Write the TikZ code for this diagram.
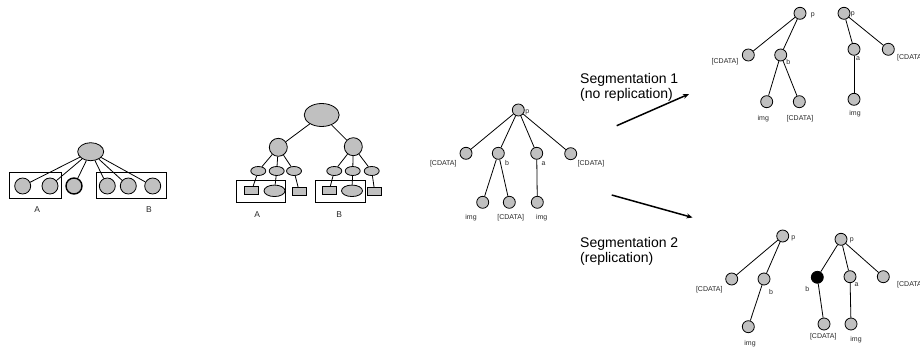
\documentclass[tikz,border=0pt]{standalone}
\usepackage{fontspec}
\setmainfont{Liberation Sans}
\usetikzlibrary{shapes.geometric,arrows.meta}
\definecolor{nodegray}{RGB}{192,192,192}
\definecolor{inkgray}{RGB}{40,40,40}
\begin{document}
\begin{tikzpicture}[x=1pt,y=-1pt,
  nd/.style={circle,draw=black,fill=nodegray,line width=0.8pt,minimum size=12pt,inner sep=0pt},
  blk/.style={nd,fill=black},
  bignd/.style={ellipse,draw=black,fill=nodegray,line width=0.8pt,inner sep=0pt},
  smallnd/.style={ellipse,draw=black,fill=nodegray,line width=0.8pt,inner sep=0pt,minimum width=15pt,minimum height=9pt},
  leafbox/.style={rectangle,draw=black,fill=nodegray,line width=0.8pt,inner sep=0pt,minimum width=14pt,minimum height=8pt},
  grp/.style={draw=black,line width=0.7pt},
  edge/.style={line width=0.8pt},
  lbl/.style={font=\fontsize{7}{8}\selectfont,text=inkgray,inner sep=0pt},
  grplbl/.style={font=\fontsize{8.5}{10}\selectfont,text=inkgray,inner sep=0pt},
  seglbl/.style={font=\fontsize{14}{15}\selectfont,align=left,inner sep=0pt,anchor=north west},
  segarrow/.style={line width=1.5pt,-{Stealth[length=6pt,width=5pt]}}]
\useasboundingbox (0,0) rectangle (920,350);

% ---- flat grouping: one root, six children, two groups ----
\node[bignd,minimum width=26pt,minimum height=18pt] (r1) at (90.7,151.7) {};
\node[nd,minimum size=16pt] (c1) at (22.7,186) {};
\node[nd,minimum size=16pt] (c2) at (50,186) {};
\node[nd,minimum size=16pt,line width=1.4pt] (c3) at (74,186) {};
\node[nd,minimum size=16pt] (c4) at (107.3,186) {};
\node[nd,minimum size=16pt] (c5) at (128.3,186) {};
\node[nd,minimum size=16pt] (c6) at (152.7,186) {};
\foreach \c in {c1,c2,c3,c4,c5,c6} \draw[edge] (r1) -- (\c);
\draw[grp] (9.3,172.3) rectangle (61.7,198.3);
\draw[grp] (96,172.3) rectangle (166.7,198.3);
\node[grplbl] (ga1) at (37.3,209.3) {A};
\node[grplbl] (gb1) at (149,209.3) {B};

% ---- nested grouping: two subtrees ----
\node[bignd,minimum width=35pt,minimum height=23pt] (r2) at (321.7,115) {};
\node[nd,minimum size=18pt] (l) at (278.3,147.3) {};
\node[nd,minimum size=18pt] (r) at (353.3,146.7) {};
\node[smallnd] (l1) at (258.3,171) {};
\node[smallnd] (l2) at (276.7,171) {};
\node[smallnd] (l3) at (294,171) {};
\node[smallnd] (r1s) at (334.3,171) {};
\node[smallnd] (r2s) at (352.7,171) {};
\node[smallnd] (r3s) at (371.7,171) {};
\node[leafbox] (l1b) at (251.7,190.5) {};
\node[smallnd,minimum width=21pt,minimum height=11.5pt] (l2e) at (274.5,190.8) {};
\node[leafbox] (l3b) at (299.2,191.5) {};
\node[leafbox] (r1b) at (329.2,190.5) {};
\node[smallnd,minimum width=21pt,minimum height=11.5pt] (r2e) at (352,190.8) {};
\node[leafbox] (r3b) at (374.7,191.5) {};
\draw[edge] (r2) -- (l);
\draw[edge] (r2) -- (r);
\foreach \c in {l1,l2,l3} \draw[edge] (l) -- (\c);
\foreach \c in {r1s,r2s,r3s} \draw[edge] (r) -- (\c);
\draw[edge] (l1) -- (l1b);
\draw[edge] (l2) -- (l2e);
\draw[edge] (l3) -- (l3b);
\draw[edge] (r1s) -- (r1b);
\draw[edge] (r2s) -- (r2e);
\draw[edge] (r3s) -- (r3b);
\draw[grp] (236,180.7) rectangle (285.7,202.7);
\draw[grp] (315.7,180.7) rectangle (365.7,202.7);
\node[grplbl] (ga2) at (257.3,215) {A};
\node[grplbl] (gb2) at (339.3,215) {B};

% ---- document tree ----
\node[nd] (p) at (518.3,110) {};
\node[nd] (cd1) at (466,153.3) {};
\node[nd] (b) at (498.3,153.3) {};
\node[nd] (a) at (536.7,153.3) {};
\node[nd] (cd2) at (570.7,153.7) {};
\node[nd] (img1) at (482.7,202.3) {};
\node[nd] (cd3) at (509.3,202.3) {};
\node[nd] (img2) at (537.3,202.3) {};
\foreach \c in {cd1,b,a,cd2} \draw[edge] (p) -- (\c);
\draw[edge] (b) -- (img1);
\draw[edge] (b) -- (cd3);
\draw[edge] (a) -- (img2);
\node[lbl] (tp) at (527.3,112.5) {p};
\node[lbl] (tcd1) at (443.3,164) {[CDATA]};
\node[lbl] (tb) at (507,162.5) {b};
\node[lbl] (ta) at (543.5,164) {a};
\node[lbl] (tcd2) at (591,163.3) {[CDATA]};
\node[lbl] (timg1) at (471,217.7) {img};
\node[lbl] (tcd3) at (510.7,217.7) {[CDATA]};
\node[lbl] (timg2) at (541.7,217.7) {img};

% ---- segmentation 1 ----
\node[seglbl] (seg1) at (580,73.5) {Segmentation 1\\(no replication)};
\coordinate (s1a) at (616.7,125.7);
\coordinate (s1b) at (689,94);
\draw[segarrow] (s1a) -- (s1b);

\node[nd] (ap) at (800,13.3) {};
\node[nd] (acd) at (748.3,55) {};
\node[nd] (ab) at (780.7,55) {};
\node[nd] (aimg) at (766.7,101.7) {};
\node[nd] (acd2) at (799.3,101.7) {};
\draw[edge] (ap) -- (acd);
\draw[edge] (ap) -- (ab);
\draw[edge] (ab) -- (aimg);
\draw[edge] (ab) -- (acd2);
\node[lbl] (tap) at (812.7,15) {p};
\node[lbl] (tacd) at (725,61.7) {[CDATA]};
\node[lbl] (tab) at (788.3,61.5) {b};
\node[lbl] (taimg) at (763.3,118.3) {img};
\node[lbl] (tacd2) at (800,119) {[CDATA]};

\node[nd] (bp) at (844,13.3) {};
\node[nd] (ba) at (854,49.3) {};
\node[nd] (bcd) at (888.3,49.3) {};
\node[nd] (bimg) at (854,99.3) {};
\draw[edge] (bp) -- (ba);
\draw[edge] (bp) -- (bcd);
\draw[edge] (ba) -- (bimg);
\node[lbl] (tbp) at (852.7,14.5) {p};
\node[lbl] (tba) at (858,58.3) {a};
\node[lbl,anchor=west] (tbcd) at (897,57.3) {[CDATA]};
\node[lbl] (tbimg) at (855,113.3) {img};

% ---- segmentation 2 ----
\node[seglbl] (seg2) at (580,237.5) {Segmentation 2\\(replication)};
\coordinate (s2a) at (611.7,195);
\coordinate (s2b) at (692.5,217.5);
\draw[segarrow] (s2a) -- (s2b);

\node[nd] (cp) at (782.7,236) {};
\node[nd] (ccd) at (731.7,279) {};
\node[nd] (cb) at (764,279) {};
\node[nd] (cimg) at (748.3,326.7) {};
\draw[edge] (cp) -- (ccd);
\draw[edge] (cp) -- (cb);
\draw[edge] (cb) -- (cimg);
\node[lbl] (tcp) at (793.3,238) {p};
\node[lbl] (tccd) at (709.3,289.3) {[CDATA]};
\node[lbl] (tcb) at (771,292) {b};
\node[lbl] (tcimg) at (750,343.3) {img};

\node[nd] (dp) at (841,239.3) {};
\node[blk] (db) at (817.3,277.3) {};
\node[nd] (da) at (850,276.7) {};
\node[nd] (dcd) at (883.3,276.7) {};
\node[nd] (dcd2) at (824,324) {};
\node[nd] (dimg) at (851,324) {};
\draw[edge] (dp) -- (db);
\draw[edge] (dp) -- (da);
\draw[edge] (dp) -- (dcd);
\draw[edge] (db) -- (dcd2);
\draw[edge] (da) -- (dimg);
\node[lbl] (tdp) at (851.7,240.5) {p};
\node[lbl] (tdb) at (807.3,288.5) {b};
\node[lbl] (tda) at (856.5,284.3) {a};
\node[lbl,anchor=west] (tdcd) at (897,285) {[CDATA]};
\node[lbl] (tdcd2) at (823.3,336.7) {[CDATA]};
\node[lbl] (tdimg) at (856,340) {img};
\end{tikzpicture}
\end{document}
